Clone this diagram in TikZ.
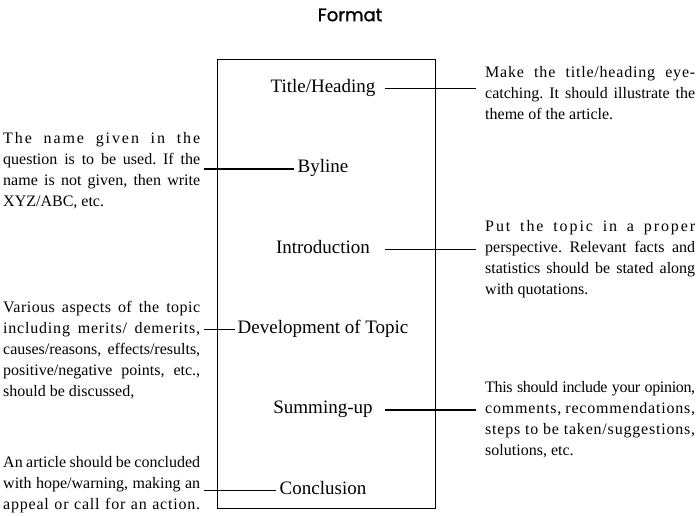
\documentclass[tikz,border=0pt]{standalone}
\usepackage{fontspec}
\setmainfont{Liberation Serif}
\newfontfamily\fmtfont[FakeBold=1.2]{Poppins}
\frenchspacing
\newcommand\jl[1]{\hbox to\hsize{\vrule height 12pt depth 4pt width 0pt #1}}
\newcommand\nl[1]{\hbox{\vrule height 12pt depth 4pt width 0pt #1}}
\newcommand\lsp[2]{{\addfontfeature{LetterSpace=#1}#2}}
\newcommand\para[2]{\vbox{\hsize=#1\baselineskip=21pt #2}}
\tikzset{
  boxtext/.style={inner sep=0pt, anchor=base, font=\fontsize{19}{22}\selectfont},
  paratext/.style={inner sep=0pt, anchor=north west, font=\fontsize{16}{21}\selectfont},
  frame/.style={draw, line width=1.3pt, inner sep=0pt, anchor=north west},
  conn/.style={line width=1.1pt},
}
\begin{document}
\begin{tikzpicture}[x=1pt,y=-1pt]
\useasboundingbox (0,0) rectangle (700,515);
\node[font=\fmtfont\fontsize{18}{21}\selectfont] (fmt) at (350,15) {Format};
\node[frame, minimum width=218pt, minimum height=449pt] (frm) at (217,59) {};

\node[boxtext] (t1) at (323,92) {Title/Heading};
\node[boxtext] (t2) at (323,172.5) {Byline};
\node[boxtext] (t3) at (323,253) {Introduction};
\node[boxtext] (t4) at (323,333) {Development of Topic};
\node[boxtext] (t5) at (323,413.5) {Summing-up};
\node[boxtext] (t6) at (323,494) {Conclusion};

\coordinate (rs) at (385,0);
\coordinate (re) at (476,0);
\coordinate (ls) at (204,0);

\node[paratext] (p1) at (485,65) {\para{210pt}{%
\jl{\lsp{5}{Make the title/heading eye-}}
\jl{catching. It should illustrate the}
\nl{theme of the article.}}};
\node[paratext] (p2) at (3,131) {\para{197pt}{%
\jl{\lsp{12}{The name given in the}}
\jl{question is to be used. If the}
\jl{name is not given, then write}
\nl{XYZ/ABC, etc.}}};
\node[paratext] (p3) at (485,219) {\para{210pt}{%
\jl{\lsp{12}{Put the topic in a proper}}
\jl{perspective. Relevant facts and}
\jl{statistics should be stated along}
\nl{with quotations.}}};
\node[paratext] (p4) at (3,300) {\para{197pt}{%
\jl{\lsp{3}{Various aspects of the topic}}
\jl{\lsp{5}{including merits/ demerits,}}
\jl{causes/reasons, effects/results,}
\jl{positive/negative points, etc.,}
\nl{should be discussed,}}};
\node[paratext] (p5) at (485,380) {\para{210pt}{%
\jl{\lsp{-2}{This should include your opinion,}}
\jl{\lsp{5}{comments, recommendations,}}
\jl{\lsp{5}{steps to be taken/suggestions,}}
\nl{solutions, etc.}}};
\node[paratext] (p6) at (3,455) {\para{197pt}{%
\jl{An article should be concluded}
\jl{with hope/warning, making an}
\jl{\lsp{5}{appeal or call for an action.}}}};

\draw[conn] ([yshift=3.5pt]t1.base -| rs) -- ([yshift=3.5pt]t1.base -| re);
\draw[conn] ([yshift=3.5pt]t3.base -| rs) -- ([yshift=3.5pt]t3.base -| re);
\draw[conn] ([yshift=3.5pt]t5.base -| rs) -- ([yshift=3.5pt]t5.base -| re);
\draw[conn] ([yshift=3.5pt]t2.base -| ls) -- ([xshift=-3pt,yshift=3.5pt]t2.base west);
\draw[conn] ([yshift=3.5pt]t4.base -| ls) -- ([xshift=-2pt,yshift=3.5pt]t4.base west);
\draw[conn] ([yshift=3.5pt]t6.base -| ls) -- ([xshift=-4pt,yshift=3.5pt]t6.base west);
\end{tikzpicture}
\end{document}
